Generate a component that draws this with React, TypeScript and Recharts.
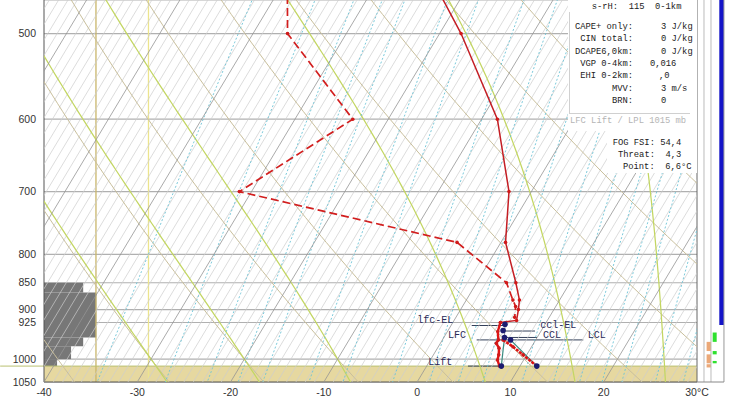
import React from "react";
import {
  ComposedChart,
  XAxis,
  YAxis,
  CartesianGrid,
  Scatter,
  ReferenceArea,
  ReferenceLine,
} from "recharts";

const P_BOT = 1050;
const P_TOP = 465.5;
const SKEW = 30.2;

const pressureTicks = [500, 600, 700, 800, 850, 900, 925, 1000, 1050];
const tempTicks = [-40, -30, -20, -10, 0, 10, 20, 30];

// temperature (solid), upper part and surface layer
const tempP = [450, 500, 600, 700, 780, 850, 882, 900, 921, 925];
const tempT = [-23.7, -17.7, -8.3, -2.4, 0.5, 4.2, 5.7, 6.2, 6.7, 5.1];
const lowP = [925, 943, 960, 967, 977, 991, 1002, 1015];
const lowT = [5.1, 5.4, 6.0, 6.0, 6.6, 7.0, 7.2, 7.8];

// dewpoint (dashed)
const dewP = [450, 500, 600, 700, 780, 850, 882, 894, 915];
const dewT = [-39.5, -36.3, -23.8, -31.3, -4.7, 3.2, 5.0, 5.7, 6.3];

// surface superadiabatic layer
const sfcP = [960, 974, 991, 1015];
const sfcT = [6.5, 8.0, 9.6, 11.8];

// parcel points (lfc-EL, ccl, CCL, LCL, Lift, surface)
const parcelP = [928.5, 941, 955, 960, 1015, 1015];
const parcelT = [5.7, 5.9, 6.5, 7.3, 8.0, 11.8];

// level marks
const markNames = ["lfc-EL", "ccl-EL", "CCL", "LCL", "Lift"];
const markP = [931, 942, 955, 960, 1015];
const markFrom = [5.85, 9.17, 9.52, 6.38, 5.45];
const markTo = [9.41, 12.63, 12.85, 17.81, 8.88];

const labelNames = ["lfc-EL", "ccl-EL", "CCL", "LCL", "LFC", "Lift"];
const labelP = [921.5, 931, 951, 952, 952, 1007];
const labelX = [0.0, 13.2, 13.5, 18.3, 3.3, 1.2];

// cloud / humidity step profile at left edge
const cloudTop = [850, 868, 955, 973, 1000];
const cloudBottom = [868, 955, 973, 1000, 1015];
const cloudWidth = [-35.8, -34.4, -35.8, -37.1, -38.6];

// background families
const dryTheta = [-40, -30, -20, -10, 0, 10, 20, 30, 40, 50, 60, 70, 80];
const moistTheta = [-30, -20, -10, 5, 15, 25, 35];
const mixRatios = [0.2, 0.4, 0.6, 0.8, 1, 1.5, 2, 3, 4, 5, 6, 8, 10, 12, 14, 16, 20, 24, 28];

const infoLabels = ["CAPE+ only:", "CIN total:", "DCAPE6,0km:", "VGP 0-4km:", "EHI 0-2km:", "MVV:", "BRN:"];
const infoValues = ["3 J/kg", "0 J/kg", "0 J/kg", "0,016", ",0", "3 m/s", "0"];
const fogLines = ["FOG FSI: 54,4", "Threat:  4,3", "Point:  6,6°C"];

const sx = (t: number, p: number) => t + SKEW * Math.log(P_BOT / p);
const toPts = (ps: number[], ts: number[]) => ps.map((p, i) => ({ x: sx(ts[i], p), p }));

const pRange: number[] = [];
for (let p = 380; p <= 1100; p += 10) pRange.push(p);

function zigzag(values: number[]) {
  const pts: { x: number; p: number }[] = [];
  values.forEach((t, i) => {
    const ends = i % 2 === 0 ? [1250, 380] : [380, 1250];
    ends.forEach((p) => pts.push({ x: sx(t, p), p }));
  });
  return pts;
}

const lightIso: number[] = [];
const darkIso: number[] = [];
for (let t = -70; t <= 40; t++) (t % 10 === 0 ? darkIso : lightIso).push(t);

const dryLine = (th: number) =>
  pRange.map((p) => ({ x: sx((th + 273.15) * Math.pow(p / 1000, 0.2857) - 273.15, p), p }));

function moistLine(tw: number) {
  const grad = (T: number, p: number) => {
    const tc = T - 273.15;
    const es = 6.112 * Math.exp((17.67 * tc) / (tc + 243.5));
    const rs = (0.622 * es) / (p - es);
    return (287 * T + 2.5e6 * rs) / (1005 + (2.5e6 * 2.5e6 * rs * 0.622) / (287 * T * T)) / p;
  };
  const up: { x: number; p: number }[] = [];
  let T = tw + 273.15;
  for (let p = 1000; p >= 380; p -= 2) {
    if (p % 10 === 0) up.unshift({ x: sx(T - 273.15, p), p });
    T -= grad(T, p) * 2;
  }
  T = tw + 273.15;
  const down: { x: number; p: number }[] = [];
  for (let p = 1000; p <= 1100; p += 2) {
    T += grad(T, p) * 2;
    if ((p + 2) % 10 === 0) down.push({ x: sx(T - 273.15, p + 2), p: p + 2 });
  }
  return [...up, ...down];
}

function mixLine(w: number) {
  return pRange.map((p) => {
    const e = (w * p) / (622 + w);
    const l = Math.log(e / 6.112);
    return { x: sx((243.5 * l) / (17.67 - l), p), p };
  });
}

const NoDot = () => <g />;
const RedDot = (props: any) => <circle cx={props.cx} cy={props.cy} r={1.8} fill="#d01a1a" />;
const NavyDot = (props: any) => <circle cx={props.cx} cy={props.cy} r={2.8} fill="#1c1c70" />;
const MarkText = (props: any) => (
  <text
    x={props.cx}
    y={props.cy}
    dominantBaseline="central"
    fontFamily="Liberation Mono"
    fontSize={10}
    fill="#2a2a58"
  >
    {props.payload.name}
  </text>
);

const infoFont: React.CSSProperties = {
  position: "absolute",
  fontFamily: "Liberation Mono",
  fontSize: 8.8,
  color: "#222",
  lineHeight: "10px",
  whiteSpace: "pre",
};

export default function App() {
  const labelData = labelNames.map((name, i) => ({ x: labelX[i], p: labelP[i], name }));
  return (
    <div style={{ position: "absolute", left: 0, top: 0, width: 732, height: 412, background: "#fff" }}>
      <ComposedChart width={732} height={412} margin={{ top: 0, right: 35, left: 0, bottom: 0 }}>
        <XAxis
          type="number"
          dataKey="x"
          domain={[-40, 30]}
          ticks={tempTicks}
          interval={0}
          allowDataOverflow
          tickLine={false}
          tickSize={5}
          height={30}
          axisLine={{ stroke: "#555" }}
          tick={{ fontSize: 10.5, fill: "#333", fontFamily: "Liberation Sans" }}
          tickFormatter={(v: number) => (v === 30 ? "30°C" : String(v))}
        />
        <YAxis
          type="number"
          dataKey="p"
          scale="log"
          domain={[P_TOP, P_BOT]}
          reversed
          allowDataOverflow
          ticks={pressureTicks}
          interval={0}
          tickLine={false}
          width={44}
          axisLine={{ stroke: "#555" }}
          tick={{ fontSize: 10.5, fill: "#333", fontFamily: "Liberation Sans" }}
        />
        <CartesianGrid vertical={false} stroke="#b0b0b0" strokeWidth={1.2} />

        <Scatter data={zigzag(lightIso)} shape={NoDot} line={{ stroke: "#cdcdcd", strokeWidth: 0.7 }} isAnimationActive={false} />
        {dryTheta.map((th) => (
          <Scatter key={"d" + th} data={dryLine(th)} shape={NoDot} line={{ stroke: "#c9bf9c", strokeWidth: 1 }} isAnimationActive={false} />
        ))}
        {moistTheta.map((th) => (
          <Scatter key={"m" + th} data={moistLine(th)} shape={NoDot} line={{ stroke: "#c3d662", strokeWidth: 1.25 }} isAnimationActive={false} />
        ))}
        {mixRatios.map((w) => (
          <Scatter key={"w" + w} data={mixLine(w)} shape={NoDot} line={{ stroke: "#6cc3d6", strokeWidth: 0.9, strokeDasharray: "2 2" }} isAnimationActive={false} />
        ))}

        <ReferenceArea x1={-40} x2={30} y1={1015} y2={P_BOT} fill="#e6d8a0" fillOpacity={1} stroke="none" />
        <Scatter data={zigzag(darkIso)} shape={NoDot} line={{ stroke: "#949494", strokeWidth: 0.8 }} isAnimationActive={false} />

        <ReferenceLine x={-34.43} stroke="#c9b66a" strokeWidth={1.3} />
        <ReferenceLine x={-28.8} stroke="#ece48e" strokeWidth={1.3} />
        <ReferenceLine
          segment={[{ x: -44.7, y: 1015 }, { x: 30, y: 1015 }]}
          stroke="#b9c070"
          ifOverflow="visible"
        />
        {cloudTop.map((p, i) => (
          <ReferenceArea key={"c" + p} x1={-40} x2={cloudWidth[i]} y1={p} y2={cloudBottom[i]} fill="#777" fillOpacity={1} stroke="none" />
        ))}

        {/* right side panel */}
        <ReferenceLine x={30} stroke="#666" />
        <ReferenceLine x={30.75} stroke="#bbb" ifOverflow="visible" />
        <ReferenceLine x={31.5} stroke="#bbb" ifOverflow="visible" />
        <ReferenceLine x={32.89} stroke="#999" ifOverflow="visible" />
        <ReferenceLine segment={[{ x: 30, y: P_BOT }, { x: 32.89, y: P_BOT }]} stroke="#888" ifOverflow="visible" />
        <ReferenceArea x1={32.39} x2={32.89} y1={P_TOP} y2={930} fill="#1414c8" fillOpacity={1} stroke="none" ifOverflow="visible" />
        <ReferenceArea x1={31.68} x2={32.11} y1={945} y2={964} fill="#2ee02e" fillOpacity={1} stroke="none" ifOverflow="visible" />
        <ReferenceArea x1={31.68} x2={32.11} y1={983} y2={990} fill="#2ee02e" fillOpacity={1} stroke="none" ifOverflow="visible" />
        <ReferenceArea x1={31.68} x2={32.11} y1={1004} y2={1009} fill="#2ee02e" fillOpacity={1} stroke="none" ifOverflow="visible" />
        <ReferenceArea x1={31.03} x2={31.5} y1={964} y2={983} fill="#eba878" fillOpacity={1} stroke="none" ifOverflow="visible" />
        <ReferenceArea x1={31.03} x2={31.5} y1={990} y2={1009} fill="#eba878" fillOpacity={1} stroke="none" ifOverflow="visible" />
        <ReferenceArea x1={31.03} x2={31.5} y1={1011} y2={1018} fill="#eba878" fillOpacity={1} stroke="none" ifOverflow="visible" />

        {/* level marks */}
        {markNames.map((n, i) => (
          <ReferenceLine
            key={n}
            segment={[{ x: markFrom[i], y: markP[i] }, { x: markTo[i], y: markP[i] }]}
            stroke="#34405a"
            strokeWidth={1}
          />
        ))}
        <Scatter data={labelData} shape={MarkText} isAnimationActive={false} />

        {/* parcel path */}
        <Scatter data={toPts([parcelP[4], parcelP[2]], [parcelT[4], parcelT[2]])} shape={NoDot} line={{ stroke: "#3a8a80", strokeWidth: 1.2 }} isAnimationActive={false} />
        <Scatter data={toPts([parcelP[5], parcelP[3]], [parcelT[5], parcelT[3]])} shape={NoDot} line={{ stroke: "#3a8a80", strokeWidth: 1.2 }} isAnimationActive={false} />
        <Scatter data={toPts([parcelP[2], parcelP[0], 921], [parcelT[2], parcelT[0], 5.6])} shape={NoDot} line={{ stroke: "#8a8a9a", strokeWidth: 1 }} isAnimationActive={false} />

        {/* soundings */}
        <Scatter data={toPts(dewP, dewT)} shape={RedDot} line={{ stroke: "#d21e1e", strokeWidth: 1.7, strokeDasharray: "8 4" }} isAnimationActive={false} />
        <Scatter data={toPts(tempP, tempT)} shape={RedDot} line={{ stroke: "#c41e24", strokeWidth: 1.5 }} isAnimationActive={false} />
        <Scatter data={toPts(lowP, lowT)} shape={RedDot} line={{ stroke: "#e01414", strokeWidth: 2.4 }} isAnimationActive={false} />
        <Scatter data={toPts(sfcP, sfcT)} shape={RedDot} line={{ stroke: "#e01414", strokeWidth: 2.6, strokeDasharray: "3 1" }} isAnimationActive={false} />
        <Scatter data={toPts(parcelP, parcelT)} shape={NavyDot} isAnimationActive={false} />
      </ComposedChart>

      {/* info panel */}
      <div style={{ position: "absolute", left: 568, top: 0, width: 129, height: 131, background: "#fff" }} />
      <div style={{ position: "absolute", left: 607, top: 131, width: 90, height: 42, background: "#fff" }} />
      <div style={{ position: "absolute", left: 569, top: 12, width: 120, height: 101, border: "1px solid #d0d0d0", borderTop: "none", borderRight: "none" }} />
      <div style={{ ...infoFont, left: 591.7, top: 1.7 }}>{"s-rH:  115  0-1km"}</div>
      {infoLabels.map((l, i) => (
        <div key={l} style={{ ...infoFont, left: 560, width: 73, textAlign: "right", top: 21.7 + i * 12.4 }}>
          {l}
        </div>
      ))}
      {infoValues.map((v, i) => (
        <div key={"v" + i} style={{ ...infoFont, left: [661, 661, 661, 650, 659, 661, 661][i], top: 21.7 + i * 12.4 }}>
          {v}
        </div>
      ))}
      <div style={{ ...infoFont, left: 570, top: 115.7, color: "#b5b5b5" }}>{"LFC Lift / LPL 1015 mb"}</div>
      {fogLines.map((l, i) => (
        <div key={l} style={{ ...infoFont, left: [612.7, 618, 623][i], top: 137.7 + i * 12 }}>
          {l}
        </div>
      ))}
    </div>
  );
}
